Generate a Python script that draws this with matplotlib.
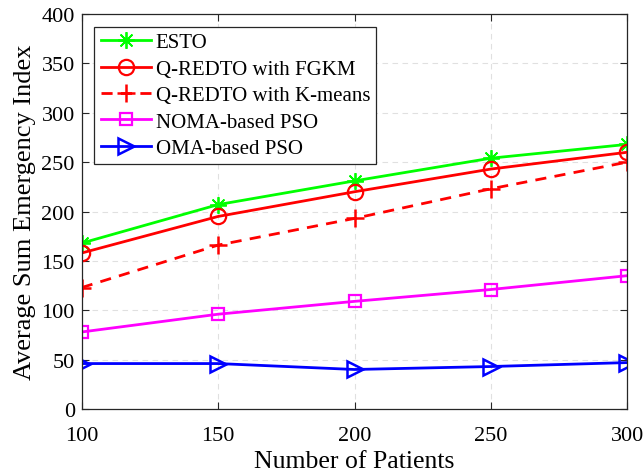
import numpy as np
import matplotlib.pyplot as plt

plt.rcParams['font.family'] = ['Liberation Serif', 'DejaVu Serif']
plt.rcParams['mathtext.fontset'] = 'stix'

patients = [100, 150, 200, 250, 300]
esto = [168, 207, 231, 254, 268]
fgkm = [158, 195, 220, 243, 260]
kmeans = [123, 166, 193, 223, 250]
noma_pso = [78, 96, 109, 121, 135]
oma_pso = [46, 46, 40, 43, 47]

fig = plt.figure(figsize=(6.44, 4.77), dpi=100)
ax = fig.add_axes([0.127, 0.1405, 0.847, 0.828])

ax.plot(patients, esto, color='#00ff00', marker=(8, 2, 0), markersize=12, lw=2,
        markeredgewidth=1.3, label='ESTO')
ax.plot(patients, fgkm, color='#ff0000', marker='o', markersize=11, lw=2,
        markerfacecolor='none', markeredgewidth=1.6, label='Q-REDTO with FGKM')
ax.plot(patients, kmeans, color='#ff0000', marker='+', markersize=13, lw=2,
        linestyle=(0, (4, 3)), markeredgewidth=1.8, label='Q-REDTO with K-means')
ax.plot(patients, noma_pso, color='#ff00ff', marker='s', markersize=9, lw=2,
        markerfacecolor='none', markeredgewidth=1.6, label='NOMA-based PSO')
ax.plot(patients, oma_pso, color='#0000ff', marker='>', markersize=12, lw=2,
        markerfacecolor='none', markeredgewidth=1.8, label='OMA-based PSO')

ax.set_xlim(100, 300)
ax.set_ylim(0, 400)
ax.set_xticks(patients)
ax.set_yticks(np.arange(0, 401, 50))
ax.tick_params(direction='in', top=True, right=True, labelsize=16, length=5,
               color='#262626')
ax.tick_params(axis='x', pad=12)
ax.tick_params(axis='y', pad=5)
ax.grid(True, linestyle=(0, (5, 4)), color='#e0e0e0', lw=0.8)
for s in ax.spines.values():
    s.set_color('#262626')
    s.set_linewidth(0.9)

ax.set_xlabel('Number of Patients', fontsize=18.5, labelpad=4)
ax.set_ylabel('Average Sum Emergency Index', fontsize=19, labelpad=4)

leg = ax.legend(loc='upper left', fontsize=15, fancybox=False, framealpha=1,
                edgecolor='#262626', handlelength=2.4, handletextpad=0.25,
                borderpad=0.3, labelspacing=0.33, borderaxespad=0.6)
leg.get_frame().set_linewidth(0.9)

fig.savefig('out.png', dpi=100)
